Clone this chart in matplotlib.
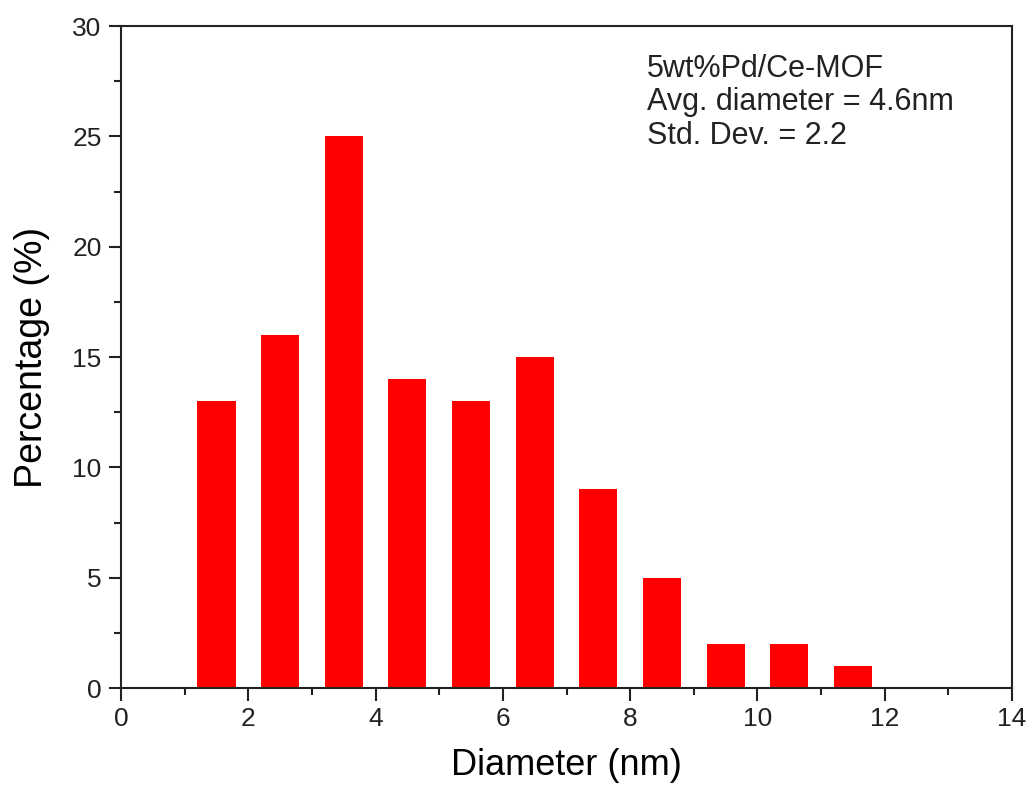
import numpy as np
import matplotlib
matplotlib.use("Agg")
import matplotlib.pyplot as plt
from matplotlib.ticker import MultipleLocator

plt.rcParams["font.family"] = ["Liberation Sans", "DejaVu Sans"]

diameter = [1.5, 2.5, 3.5, 4.5, 5.5, 6.5, 7.5, 8.5, 9.5, 10.5, 11.5]
percentage = [13, 16, 25, 14, 13, 15, 9, 5, 2, 2, 1]

fig = plt.figure(figsize=(10.29, 7.88), dpi=100)
ax = fig.add_axes([0.1176, 0.1269, 0.8659, 0.8401])

ax.bar(diameter, percentage, width=0.6, color="#ff0000", edgecolor="none")

ax.set_xlim(0, 14)
ax.set_ylim(0, 30)
ax.xaxis.set_major_locator(MultipleLocator(2))
ax.xaxis.set_minor_locator(MultipleLocator(1))
ax.yaxis.set_major_locator(MultipleLocator(5))
ax.yaxis.set_minor_locator(MultipleLocator(2.5))
ax.tick_params(which="both", direction="out", top=False, right=False, width=1.5,
               labelsize=19, colors="#222222", pad=5)
ax.tick_params(which="major", length=9)
ax.tick_params(which="minor", length=5)
for s in ax.spines.values():
    s.set_linewidth(1.5)
    s.set_color("#222222")

ax.set_xlabel("Diameter (nm)", fontsize=26, labelpad=12)
ax.set_ylabel("Percentage (%)", fontsize=27, labelpad=16)

ax.text(0.590, 0.958, "5wt%Pd/Ce-MOF\nAvg. diameter = 4.6nm\nStd. Dev. = 2.2",
        transform=ax.transAxes, fontsize=22, va="top", ha="left", linespacing=1.15, color="#222222")

fig.savefig("out.png", dpi=100)
